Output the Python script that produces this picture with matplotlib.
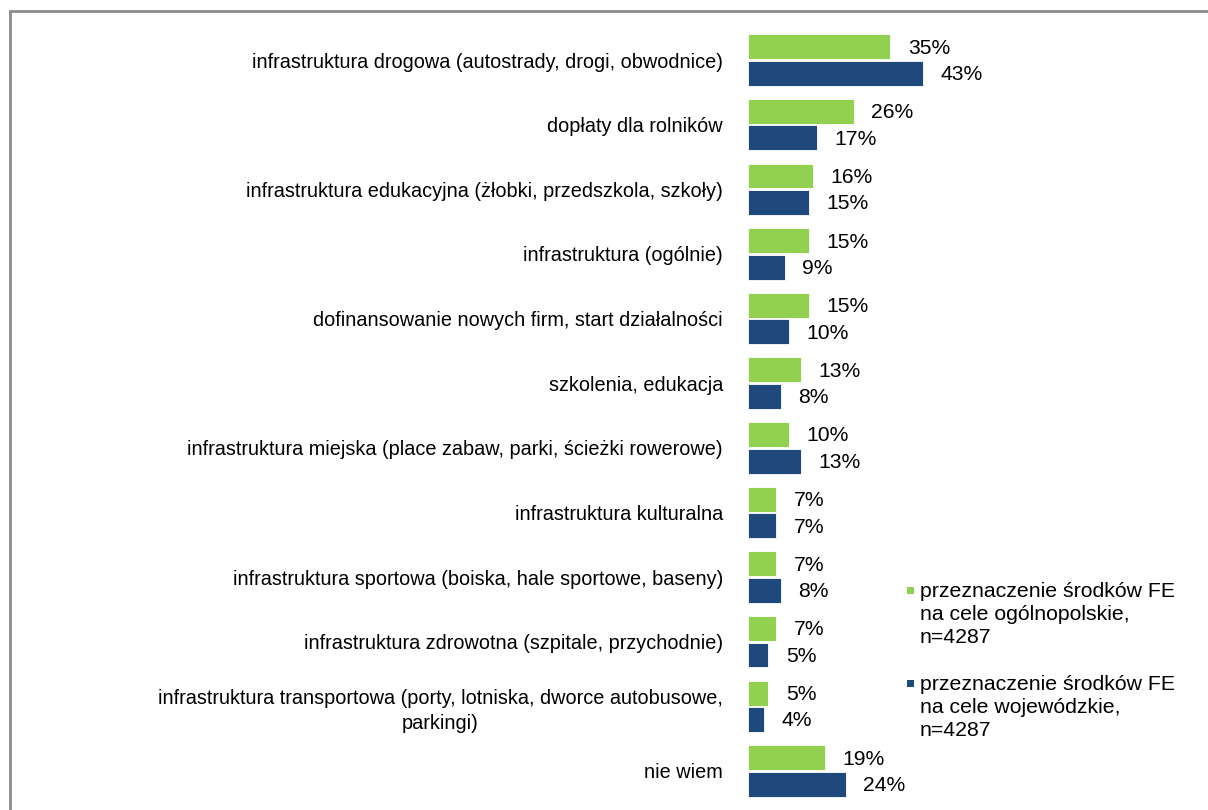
import matplotlib
matplotlib.use("Agg")
import matplotlib.pyplot as plt
from matplotlib.patches import Rectangle
import numpy as np

plt.rcParams['font.family'] = ['Liberation Sans', 'DejaVu Sans']

categories = [
    "infrastruktura drogowa (autostrady, drogi, obwodnice)",
    "dopłaty dla rolników",
    "infrastruktura edukacyjna (żłobki, przedszkola, szkoły)",
    "infrastruktura (ogólnie)",
    "dofinansowanie nowych firm, start działalności",
    "szkolenia, edukacja",
    "infrastruktura miejska (place zabaw, parki, ścieżki rowerowe)",
    "infrastruktura kulturalna",
    "infrastruktura sportowa (boiska, hale sportowe, baseny)",
    "infrastruktura zdrowotna (szpitale, przychodnie)",
    "infrastruktura transportowa (porty, lotniska, dworce autobusowe,\nparkingi)",
    "nie wiem",
]
ogolnopolskie = [35, 26, 16, 15, 15, 13, 10, 7, 7, 7, 5, 19]
wojewodzkie = [43, 17, 15, 9, 10, 8, 13, 7, 8, 5, 4, 24]
series_names = [
    ["przeznaczenie środków FE", "na cele ogólnopolskie,", "n=4287"],
    ["przeznaczenie środków FE", "na cele wojewódzkie,", "n=4287"],
]
colors = ["#92D050", "#1F497D"]

W, H = 1208, 810
fig = plt.figure(figsize=(W / 100, H / 100), dpi=100)
fig.patch.set_facecolor("white")

# border frame (right and bottom edges lie outside the image)
fig.patches.append(Rectangle((10 / W, -0.2), 1.2, 1.2 - 11 / H, transform=fig.transFigure,
                             fill=False, edgecolor="#8c8c8c", linewidth=2.0))

ax_left, ax_right = 748, 1190
ax_top, ax_bot = 27.7, 803.3
ax = fig.add_axes([ax_left / W, 1 - ax_bot / H, (ax_right - ax_left) / W, (ax_bot - ax_top) / H])
ax.set_xlim(0, (ax_right - ax_left) / 4.07)
ax.set_ylim(len(categories) - 0.5, -0.5)

y = np.arange(len(categories))
bh = 0.385
off = 0.205
ax.barh(y - off, ogolnopolskie, height=bh, color=colors[0], edgecolor="white", linewidth=0.6)
ax.barh(y + off, wojewodzkie, height=bh, color=colors[1], edgecolor="white", linewidth=0.6)

for yi, v in zip(y - off, ogolnopolskie):
    ax.annotate(f"{v}%", (v, yi), xytext=(12.6, -1), textcoords="offset points",
                ha="left", va="center", fontsize=15.2, color="black")
for yi, v in zip(y + off, wojewodzkie):
    ax.annotate(f"{v}%", (v, yi), xytext=(12.6, -1), textcoords="offset points",
                ha="left", va="center", fontsize=15.2, color="black")

ax.set_yticks(y)
ax.set_yticklabels(categories, fontsize=14.3, multialignment="center", linespacing=1.35)
for lab in ax.get_yticklabels():
    lab.set_horizontalalignment("right")
ax.tick_params(axis="y", length=0, pad=18)
ax.set_xticks([])
for s in ax.spines.values():
    s.set_visible(False)
ax.patch.set_alpha(0)

# legend (manual)
leg_base = [597, 690]
for lines, c, b in zip(series_names, colors, leg_base):
    fig.patches.append(Rectangle((907 / W, 1 - 594 / H + (597 - b) / H), 7 / W, 7 / H,
                                 transform=fig.transFigure, facecolor=c, edgecolor="none"))
    for i, line in enumerate(lines):
        fig.text(920 / W, 1 - (b + 23 * i) / H, line, fontsize=15.3, va="baseline",
                 ha="left", color="black")

fig.savefig("out.png", dpi=100, facecolor="white")
